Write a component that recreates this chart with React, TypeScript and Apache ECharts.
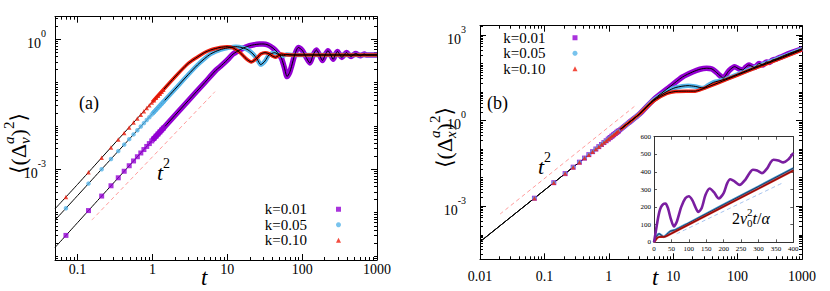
import React, { useEffect, useRef } from "react";
import * as echarts from "echarts";

const SERIF = '"Liberation Serif", "DejaVu Serif", serif';

// ---------- axis labels ----------
const aXLabelValues = [0.1, 1, 10, 100, 1000];
const aYLabelValues = [1e-3, 1];
const bXLabelValues = [0.01, 0.1, 1, 10, 100, 1000];
const bYLabelValues = [1e-3, 1, 1e3];
const seriesNames = ["k=0.01", "k=0.05", "k=0.10"];

// ---------- panel (a): velocity MSD ----------
const aT_k001 = [0.05, 0.1, 0.2, 0.5, 1, 2, 3, 5, 7, 8, 10, 12, 15, 18, 22, 27, 30, 35, 41, 47, 53, 58, 63, 68, 72, 80, 89, 100, 110, 127, 140, 155, 170, 187, 204, 221, 240, 260, 278, 297, 318, 340, 365, 391, 420, 450, 485, 520, 560, 600, 640, 680, 720, 1000];
const aV_k001 = [1.58e-5, 5.9e-5, 2.21e-4, 1.26e-3, 4.7e-3, 0.0176, 0.0381, 0.1, 0.19, 0.232, 0.333, 0.458, 0.58, 0.67, 0.739, 0.775, 0.779, 0.739, 0.62, 0.49, 0.364, 0.22, 0.138, 0.17, 0.233, 0.45, 0.647, 0.56, 0.42, 0.284, 0.43, 0.566, 0.44, 0.324, 0.44, 0.546, 0.44, 0.345, 0.44, 0.523, 0.44, 0.38, 0.44, 0.496, 0.44, 0.4, 0.44, 0.47, 0.44, 0.415, 0.44, 0.455, 0.434, 0.434];
const aT_k005 = [0.05, 0.1, 0.2, 0.5, 1, 2, 3, 4, 5, 6, 7, 8, 10, 13, 16, 19, 22, 25, 28, 32, 36, 43, 50, 56, 62, 75, 1000];
const aV_k005 = [6.76e-5, 2.48e-4, 9.2e-4, 5.16e-3, 0.0191, 0.0705, 0.152, 0.255, 0.36, 0.458, 0.523, 0.572, 0.63, 0.675, 0.64, 0.566, 0.46, 0.351, 0.26, 0.316, 0.434, 0.49, 0.43, 0.415, 0.446, 0.434, 0.434];
const aT_k010 = [0.05, 0.1, 0.2, 0.5, 1, 2, 3, 4, 5, 6, 7, 8, 10, 12, 15, 18, 21, 25, 28, 32, 36, 40, 44, 48, 53, 60, 80, 1000];
const aV_k010 = [1.23e-4, 4.5e-4, 1.69e-3, 9.7e-3, 0.036, 0.135, 0.276, 0.39, 0.496, 0.566, 0.613, 0.647, 0.675, 0.63, 0.483, 0.351, 0.3, 0.37, 0.458, 0.491, 0.465, 0.41, 0.384, 0.415, 0.455, 0.44, 0.434, 0.434];
const aGuideT = [0.155, 6.85];
const aGuideV = [6.76e-5, 0.0618];

// simulation points (dt = 0.07) where the symbols are still distinct
const markerT = [0.07, 0.14, 0.21, 0.28, 0.35, 0.42, 0.49, 0.56, 0.63, 0.7, 0.77, 0.84, 0.91, 0.98, 1.05, 1.12, 1.19, 1.26, 1.33, 1.4];
const aMark_k001 = [3.0e-5, 1.121e-4, 2.422e-4, 4.183e-4, 6.393e-4, 9.046e-4, 1.212e-3, 1.562e-3, 1.954e-3, 2.387e-3, 2.861e-3, 3.376e-3, 3.931e-3, 4.524e-3, 5.161e-3, 5.834e-3, 6.552e-3, 7.297e-3, 8.091e-3, 8.917e-3];
const aMark_k005 = [1.273e-4, 4.696e-4, 1.008e-3, 1.733e-3, 2.638e-3, 3.717e-3, 4.97e-3, 6.39e-3, 7.976e-3, 9.73e-3, 0.01164, 0.01371, 0.01595, 0.01834, 0.02089, 0.02359, 0.02646, 0.02944, 0.03261, 0.03592];
const aMark_k010 = [2.3e-4, 8.58e-4, 1.854e-3, 3.203e-3, 4.895e-3, 6.92e-3, 9.28e-3, 0.01196, 0.01496, 0.01827, 0.0219, 0.02584, 0.0301, 0.03464, 0.03937, 0.04451, 0.05, 0.0557, 0.0617, 0.0682];

// ---------- panel (b): position MSD ----------
const bT_k001 = [0.01, 0.03, 0.1, 0.3, 1, 2, 3, 5, 9, 14, 20, 26, 33, 40, 47, 54, 60, 66, 74, 90, 105, 120, 135, 150, 167, 185, 200, 215, 232, 250, 265, 280, 310, 345, 400, 500, 700, 1000];
const bV_k001 = [5.68e-5, 4.15e-4, 3.65e-3, 0.0266, 0.234, 0.821, 1.72, 5.55, 15.85, 34.2, 51.1, 63.6, 69, 65.2, 49.1, 37, 31, 40.1, 57.7, 78.5, 65.2, 60.1, 76.6, 90, 79.8, 73.6, 86.5, 101.6, 95.3, 90, 105.8, 114.7, 110.2, 131.6, 146, 182, 247, 328];
const bT_k005 = [0.01, 0.03, 0.1, 0.3, 1, 2, 3, 5, 8, 11, 17, 22, 29, 35, 42, 50, 65, 100, 200, 500, 1000];
const bV_k005 = [5.68e-5, 4.15e-4, 3.65e-3, 0.0266, 0.234, 0.821, 1.72, 5.3, 10.6, 14.6, 16.9, 15.9, 14.0, 17.5, 22, 24.5, 29, 42.5, 79, 172, 325];
const bT_k010 = [0.01, 0.03, 0.1, 0.3, 1, 2, 3, 5, 8, 11, 16, 22, 26, 30, 50, 100, 200, 500, 1000];
const bV_k010 = [5.68e-5, 4.15e-4, 3.65e-3, 0.0266, 0.234, 0.821, 1.72, 5.0, 9.0, 10.6, 10.85, 10.85, 11.95, 13.5, 21.2, 39.8, 73.6, 161, 302];
const bMark_all = [1.913e-3, 6.699e-3, 0.01394, 0.02346, 0.0351, 0.0488, 0.0645, 0.08211, 0.1016, 0.123, 0.1459, 0.171, 0.1976, 0.2258, 0.2559, 0.2876, 0.3211, 0.3558, 0.3925, 0.4305];
const bGuideT = [0.0205, 2.55];
const bGuideV = [5.32e-4, 3.28];

// ---------- inset (linear) ----------
const iT_k001 = [0, 5, 10, 15, 20, 27, 33, 40, 48, 57, 66, 78, 90, 100, 110, 120, 127, 137, 148, 160, 172, 186, 200, 210, 219, 232, 246, 262, 275, 284, 296, 310, 325, 335, 343, 357, 371, 385, 400];
const iV_k001 = [0, 60, 120, 170, 200, 218, 220, 195, 135, 90, 120, 200, 250, 262, 240, 195, 172, 195, 270, 306, 285, 249, 280, 335, 358, 345, 326, 355, 395, 412, 408, 393, 420, 455, 469, 465, 454, 470, 508];
const iT_k005 = [0, 5, 10, 15, 21, 28, 37, 47, 62, 100, 200, 300, 400];
const iV_k005 = [0, 25, 42, 48, 40, 30, 45, 63, 71, 110, 214, 317, 421];
const iT_k010 = [0, 5, 10, 15, 22, 33, 50, 100, 200, 300, 400];
const iV_k010 = [0, 14, 26, 30, 31, 33, 50, 101, 203, 305, 408];
const iGuideT = [65, 372];
const iGuideV = [48, 340];

// ---------- helpers ----------
const PURPLE = "#9400d3";
const BLUE = "#56b4e9";
const RED = "#f01e0e";
const PINK = "#ff9c9c";

const zip = (t: number[], v: number[]) => t.map((x, i) => [x, v[i]]);
const from1 = (d: number[][]) => d.filter((p) => p[0] >= 1);

function decadeMinors(e0: number, e1: number) {
  const out: number[] = [];
  for (let e = e0; e <= e1; e++) for (let m = 1; m <= 9; m++) out.push(m * Math.pow(10, e));
  return out;
}

let ctx: CanvasRenderingContext2D | null = null;
function measure(text: string, font: string) {
  if (!ctx) ctx = document.createElement("canvas").getContext("2d");
  ctx!.font = font;
  return ctx!.measureText(text).width;
}

type Piece = { t: string; size: number; it?: boolean; dy?: number; hold?: boolean };
function mathText(pieces: Piece[], x: number, y: number, rotation = 0, z = 20) {
  const children: any[] = [];
  let cx = 0;
  let held = 0;
  for (const p of pieces) {
    const font = `${p.it ? "italic " : ""}${p.size}px ${SERIF}`;
    const w = measure(p.t, font);
    children.push({
      type: "text", x: cx, y: p.dy || 0, z,
      style: { text: p.t, font, fill: "#000", align: "left", verticalAlign: "middle" },
    });
    if (p.hold) held = Math.max(held, w);
    else { cx += Math.max(held, w); held = 0; }
  }
  return { type: "group", x, y, rotation, z, children };
}

const RICH = {
  b: { fontFamily: SERIF, fontSize: 14, color: "#000", lineHeight: 22, verticalAlign: "bottom" },
  s: { fontFamily: SERIF, fontSize: 10, color: "#000", lineHeight: 10, verticalAlign: "top" },
};

const powFmt = (v: number) => `{b|10}{s|${Math.round(Math.log10(v))}}`;
const numFmt = (v: number) => (v >= 1 ? String(Math.round(v)) : String(+v.toPrecision(3)));

function logAxes(dim: "x" | "y", gridIndex: number, min: number, max: number, labels: number[], fmt: (v: number) => string, minors: number[], margin: number) {
  const main = dim === "x" ? "bottom" : "left";
  const mirror = dim === "x" ? "top" : "right";
  const base = { type: "log", logBase: 10, gridIndex, min, max, splitLine: { show: false } };
  const line = { show: true, onZero: false, lineStyle: { color: "#000", width: 1 } };
  const tick = (vals: number[], len: number) => ({ show: true, inside: true, length: len, customValues: vals, lineStyle: { color: "#000", width: 1 } });
  return [
    { ...base, position: main, axisLine: line, axisTick: tick(labels, 6), axisLabel: { show: true, customValues: labels, formatter: fmt, margin, fontFamily: SERIF, fontSize: 14, color: "#000", rich: RICH } },
    { ...base, position: mirror, axisLine: line, axisTick: tick(labels, 6), axisLabel: { show: false } },
    { ...base, position: main, axisLine: { show: false }, axisTick: tick(minors, 3), axisLabel: { show: false } },
    { ...base, position: mirror, axisLine: { show: false }, axisTick: tick(minors, 3), axisLabel: { show: false } },
  ];
}

function linAxes(dim: "x" | "y", gridIndex: number, max: number, interval: number, margin: number) {
  const main = dim === "x" ? "bottom" : "left";
  const mirror = dim === "x" ? "top" : "right";
  const base = { type: "value", gridIndex, min: 0, max, interval, splitLine: { show: false }, z: 11 };
  const line = { show: true, onZero: false, lineStyle: { color: "#333", width: 1 } };
  const tick = { show: true, inside: true, length: 3, lineStyle: { color: "#333", width: 0.8 } };
  return [
    { ...base, position: main, axisLine: line, axisTick: tick, axisLabel: { show: true, margin, fontFamily: SERIF, fontSize: 7, color: "#000" } },
    { ...base, position: mirror, axisLine: line, axisTick: tick, axisLabel: { show: false } },
  ];
}

function lineS(name: string, data: number[][], ax: number, color: string, width: number, z = 2, dashed = false) {
  return {
    type: "line", name, data, xAxisIndex: ax, yAxisIndex: ax, showSymbol: false, symbol: "none",
    smooth: 0.25, silent: true, z, lineStyle: { color, width, type: dashed ? [4, 3] : "solid" },
  };
}
function markS(name: string, data: number[][], ax: number, symbol: string, color: string, size: number) {
  return { type: "scatter", name, data, xAxisIndex: ax, yAxisIndex: ax, symbol, symbolSize: size, itemStyle: { color }, silent: true, z: 2 };
}

function buildOption() {
  const aP = zip(aT_k001, aV_k001), aB = zip(aT_k005, aV_k005), aR = zip(aT_k010, aV_k010);
  const bP = zip(bT_k001, bV_k001), bB = zip(bT_k005, bV_k005), bR = zip(bT_k010, bV_k010);

  const series: any[] = [
    // panel (a)
    lineS("t2a", zip(aGuideT, aGuideV), 0, PINK, 1, 2, true),
    lineS("bandA1", from1(aP), 0, PURPLE, 5.5),
    lineS("bandA2", from1(aB), 0, BLUE, 4.5),
    lineS("bandA3", from1(aR), 0, RED, 3.5),
    markS(seriesNames[0], zip(markerT, aMark_k001), 0, "rect", PURPLE, 5),
    markS(seriesNames[1], zip(markerT, aMark_k005), 0, "circle", BLUE, 4.5),
    markS(seriesNames[2], zip(markerT, aMark_k010), 0, "triangle", RED, 4.5),
    lineS("thA1", aP, 0, "#000", 1),
    lineS("thA2", aB, 0, "#000", 1),
    lineS("thA3", aR, 0, "#000", 1),
    // panel (b)
    lineS("t2b", zip(bGuideT, bGuideV), 4, PINK, 1, 2, true),
    lineS("bandB1", from1(bP), 4, PURPLE, 5.5),
    lineS("bandB2", from1(bB), 4, BLUE, 4.5),
    lineS("bandB3", from1(bR), 4, RED, 3.5),
    markS(seriesNames[0], zip(markerT, bMark_all), 4, "rect", PURPLE, 5),
    markS(seriesNames[1], zip(markerT, bMark_all), 4, "circle", BLUE, 4.5),
    markS(seriesNames[2], zip(markerT, bMark_all), 4, "triangle", RED, 4.5),
    lineS("thB1", bP, 4, "#000", 1),
    lineS("thB2", bB, 4, "#000", 1),
    lineS("thB3", bR, 4, "#000", 1),
    // inset
    lineS("iguide", zip(iGuideT, iGuideV), 8, "#a8c4ee", 1, 12, true),
    lineS("iB", zip(iT_k005, iV_k005), 8, "#3f97cc", 2.4, 12),
    lineS("iBk", zip(iT_k005, iV_k005), 8, "#113", 0.7, 12),
    lineS("iR", zip(iT_k010, iV_k010), 8, "#d0201a", 2.2, 12),
    lineS("iRk", zip(iT_k010, iV_k010), 8, "#400", 0.6, 12),
    lineS("iP", zip(iT_k001, iV_k001), 8, "#7a1ea0", 2.6, 12),
  ];

  const legendData = [
    { name: seriesNames[0], icon: "rect" },
    { name: seriesNames[1], icon: "circle" },
    { name: seriesNames[2], icon: "triangle" },
  ];
  const legendBase = {
    data: legendData, orient: "vertical", align: "right", itemWidth: 5, itemHeight: 5, itemGap: 0,
    padding: 0, selectedMode: false,
  };

  const graphic = [
    { type: "text", x: 89, y: 103, z: 20, style: { text: "(a)", font: `18px ${SERIF}`, fill: "#000", align: "center", verticalAlign: "middle" } },
    { type: "text", x: 497.5, y: 102.5, z: 20, style: { text: "(b)", font: `18px ${SERIF}`, fill: "#000", align: "center", verticalAlign: "middle" } },
    mathText([{ t: "t", size: 22, it: true }, { t: "2", size: 14, dy: -9 }], 157, 172),
    mathText([{ t: "t", size: 22, it: true }, { t: "2", size: 14, dy: -9 }], 538, 166),
    mathText([{ t: "t", size: 23, it: true }], 201, 277),
    mathText([{ t: "t", size: 23, it: true }], 652, 277),
    mathText([
      { t: "⟨", size: 22 },
      { t: "(", size: 22 },
      { t: "Δ", size: 22 },
      { t: "a", size: 15, it: true, dy: -9, hold: true },
      { t: "v", size: 15, it: true, dy: 7 },
      { t: ")", size: 22 },
      { t: "2", size: 15, dy: -9 },
      { t: "⟩", size: 22 },
    ], 18, 174, Math.PI / 2),
    mathText([
      { t: "⟨", size: 22 },
      { t: "(", size: 22 },
      { t: "Δ", size: 22 },
      { t: "a", size: 15, it: true, dy: -9, hold: true },
      { t: "x", size: 15, it: true, dy: 7 },
      { t: ")", size: 22 },
      { t: "2", size: 15, dy: -9 },
      { t: "⟩", size: 22 },
    ], 444, 168, Math.PI / 2),
    mathText([
      { t: "2", size: 16 },
      { t: "v", size: 16, it: true },
      { t: "2", size: 11, dy: -6, hold: true },
      { t: "0", size: 11, dy: 5 },
      { t: "t", size: 16, it: true },
      { t: "/", size: 16 },
      { t: "α", size: 16, it: true },
    ], 732, 218, 0, 30),
  ];

  return {
    animation: false,
    backgroundColor: "#fff",
    grid: [
      { left: 55, top: 16.7, width: 322, height: 243.3, outerBoundsMode: "none" },
      { left: 480, top: 25.7, width: 322, height: 233.6, outerBoundsMode: "none" },
      { left: 654, top: 136.7, width: 139.3, height: 105.6, show: true, backgroundColor: "#fff", borderWidth: 0, z: 10, outerBoundsMode: "none" },
    ],
    xAxis: [
      ...logAxes("x", 0, 0.05, 1000, aXLabelValues, numFmt, decadeMinors(-2, 2), 2),
      ...logAxes("x", 1, 0.01, 1000, bXLabelValues, numFmt, decadeMinors(-2, 2), 10),
      ...linAxes("x", 2, 400, 50, 3),
    ],
    yAxis: [
      ...logAxes("y", 0, Math.pow(10, -5.09), Math.pow(10, 0.52), aYLabelValues, powFmt, decadeMinors(-6, 0), 9),
      ...logAxes("y", 1, Math.pow(10, -4.86), Math.pow(10, 3.33), bYLabelValues, powFmt, decadeMinors(-5, 3), 14),
      ...linAxes("y", 2, 600, 100, 3),
    ],
    legend: [
      { ...legendBase, right: 489, top: 201.5, textStyle: { fontFamily: SERIF, fontSize: 15, color: "#000", lineHeight: 15.5, padding: [0, 24, 0, 0] } },
      { ...legendBase, right: 252.5, top: 30, textStyle: { fontFamily: SERIF, fontSize: 15, color: "#000", lineHeight: 15.5, padding: [0, 22, 0, 0] } },
    ],
    series,
    graphic: { elements: graphic },
  };
}

export default function App() {
  const ref = useRef<HTMLDivElement>(null);
  useEffect(() => {
    if (!ref.current) return;
    const chart = echarts.init(ref.current, null, { renderer: "svg" });
    chart.setOption(buildOption() as any);
    return () => chart.dispose();
  }, []);
  return <div ref={ref} style={{ position: "absolute", left: 0, top: 0, width: 830, height: 291, background: "#fff" }} />;
}
